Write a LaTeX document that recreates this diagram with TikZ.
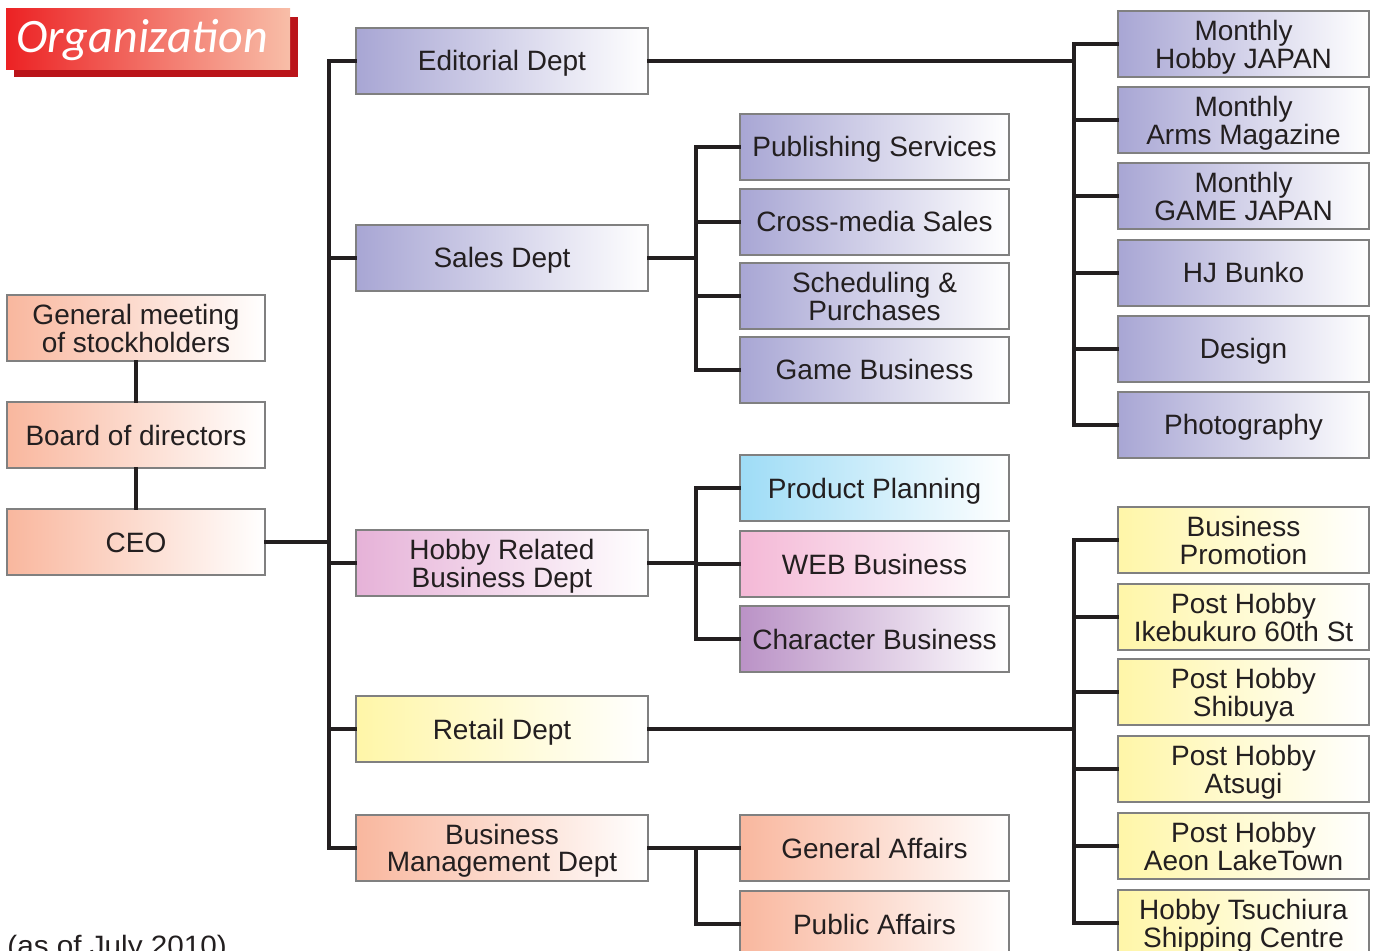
\documentclass[tikz,border=0pt]{standalone}
\usepackage{fontspec}
\setmainfont{Liberation Sans}
\newfontfamily\titlefont{Carlito}
\newfontfamily\notefont[FakeStretch=1.06]{Liberation Sans}
\definecolor{lav}{RGB}{168,166,212}
\definecolor{sal}{RGB}{249,183,158}
\definecolor{sky}{RGB}{158,220,246}
\definecolor{pnk}{RGB}{244,184,214}
\definecolor{mauve}{RGB}{230,178,216}
\definecolor{plum}{RGB}{186,146,198}
\definecolor{yel}{RGB}{255,246,168}
\definecolor{boxgray}{RGB}{128,128,128}
\definecolor{ink}{RGB}{35,31,32}
\definecolor{shadowred}{RGB}{186,20,26}
\definecolor{titlered}{RGB}{236,34,36}
\definecolor{titlelight}{RGB}{248,190,168}
% cap-centred box texts
\newcommand\one[1]{\raisebox{0pt}[10pt][0pt]{#1}}
\newcommand\two[2]{\raisebox{0pt}[10pt][13.5pt]{\begin{tabular}[t]{@{}c@{}}#1\\#2\end{tabular}}}
\tikzset{
  box/.style={draw=boxgray, line width=0.9pt, inner sep=0pt, align=center,
    font=\fontsize{14}{13.5}\selectfont, text=ink, minimum height=33pt,
    left color=#1, right color=white},
  colA/.style={box=#1, minimum width=129pt},
  colB/.style={box=#1, minimum width=146pt},
  colC/.style={box=#1, minimum width=134.5pt},
  colD/.style={box=#1, minimum width=125.5pt},
  conn/.style={draw=ink, line width=1.6pt, line cap=rect}
}
\begin{document}
\begin{tikzpicture}[x=0.5pt,y=-0.5pt]
\useasboundingbox (0,0) rectangle (1379,951);
% title
\fill[shadowred] (14,17) rectangle (298,77);
\shade[left color=titlered, right color=titlelight, shading angle=90] (6,9) rectangle (290,70);
\node[text=white, font=\titlefont\itshape\fontsize{24}{24}\selectfont, inner sep=0pt] (title) at (142,40) {Organization};
% column 1
\node[colA=sal] (gm) at (136,328) {\two{General meeting}{of stockholders}};
\node[colA=sal] (bod) at (136,435) {\one{Board of directors}};
\node[colA=sal] (ceo) at (136,542) {\one{CEO}};
% column 2
\node[colB=lav] (ed) at (502,61) {\one{Editorial Dept}};
\node[colB=lav] (sales) at (502,258) {\one{Sales Dept}};
\node[colB=mauve] (hob) at (502,563) {\two{Hobby Related}{Business Dept}};
\node[colB=yel] (ret) at (502,729) {\one{Retail Dept}};
\node[colB=sal] (bm) at (502,848) {\two{Business}{Management Dept}};
% column 3
\node[colC=lav] (ps) at (874.5,147) {\one{Publishing Services}};
\node[colC=lav] (cm) at (874.5,222) {\one{Cross-media Sales}};
\node[colC=lav] (sp) at (874.5,296) {\two{Scheduling \&}{Purchases}};
\node[colC=lav] (gb) at (874.5,370) {\one{Game Business}};
\node[colC=sky] (pp) at (874.5,488) {\one{Product Planning}};
\node[colC=pnk] (web) at (874.5,564) {\one{WEB Business}};
\node[colC=plum] (cb) at (874.5,639) {\one{Character Business}};
\node[colC=sal] (ga) at (874.5,848) {\one{General Affairs}};
\node[colC=sal] (pa) at (874.5,924) {\one{Public Affairs}};
% column 4
\node[colD=lav] (m1) at (1243.5,44) {\two{Monthly}{Hobby JAPAN}};
\node[colD=lav] (m2) at (1243.5,120) {\two{Monthly}{Arms Magazine}};
\node[colD=lav] (m3) at (1243.5,196) {\two{Monthly}{GAME JAPAN}};
\node[colD=lav] (hj) at (1243.5,273) {\one{HJ Bunko}};
\node[colD=lav] (des) at (1243.5,349) {\one{Design}};
\node[colD=lav] (pho) at (1243.5,425) {\one{Photography}};
\node[colD=yel] (bp) at (1243.5,540) {\two{Business}{Promotion}};
\node[colD=yel] (ph1) at (1243.5,617) {\two{Post Hobby}{Ikebukuro 60th St}};
\node[colD=yel] (ph2) at (1243.5,692) {\two{Post Hobby}{Shibuya}};
\node[colD=yel] (ph3) at (1243.5,769) {\two{Post Hobby}{Atsugi}};
\node[colD=yel] (ph4) at (1243.5,846) {\two{Post Hobby}{Aeon LakeTown}};
\node[colD=yel] (hts) at (1243.5,923) {\two{Hobby Tsuchiura}{Shipping Centre}};
% note
\node[anchor=base west, inner sep=0pt, font=\notefont\fontsize{14}{14}\selectfont, text=ink] (note) at (7,955) {(as of July 2010)};
% bus coordinates
\coordinate (tr) at (329,0);
\coordinate (sb) at (696,0);
\coordinate (rb) at (1074,0);
% connectors column 1
\draw[conn] (gm.south) -- (bod.north);
\draw[conn] (bod.south) -- (ceo.north);
\draw[conn] (ceo.east) -- (ceo.east -| tr);
% trunk
\draw[conn] (ed.west -| tr) -- (bm.west -| tr);
\foreach \n in {ed,sales,hob,ret,bm} \draw[conn] (\n.west) -- (\n.west -| tr);
% sales bus
\draw[conn] (sales.east) -- (sales.east -| sb);
\draw[conn] (ps.west -| sb) -- (gb.west -| sb);
\foreach \n in {ps,cm,sp,gb} \draw[conn] (\n.west) -- (\n.west -| sb);
% hobby bus
\draw[conn] (hob.east) -- (hob.east -| sb);
\draw[conn] (pp.west -| sb) -- (cb.west -| sb);
\foreach \n in {pp,web,cb} \draw[conn] (\n.west) -- (\n.west -| sb);
% business management bus
\draw[conn] (bm.east) -- (bm.east -| sb);
\draw[conn] (ga.west -| sb) -- (pa.west -| sb);
\foreach \n in {ga,pa} \draw[conn] (\n.west) -- (\n.west -| sb);
% editorial bus
\draw[conn] (ed.east) -- (ed.east -| rb);
\draw[conn] (m1.west -| rb) -- (pho.west -| rb);
\foreach \n in {m1,m2,m3,hj,des,pho} \draw[conn] (\n.west) -- (\n.west -| rb);
% retail bus
\draw[conn] (ret.east) -- (ret.east -| rb);
\draw[conn] (bp.west -| rb) -- (hts.west -| rb);
\foreach \n in {bp,ph1,ph2,ph3,ph4,hts} \draw[conn] (\n.west) -- (\n.west -| rb);
\end{tikzpicture}
\end{document}
